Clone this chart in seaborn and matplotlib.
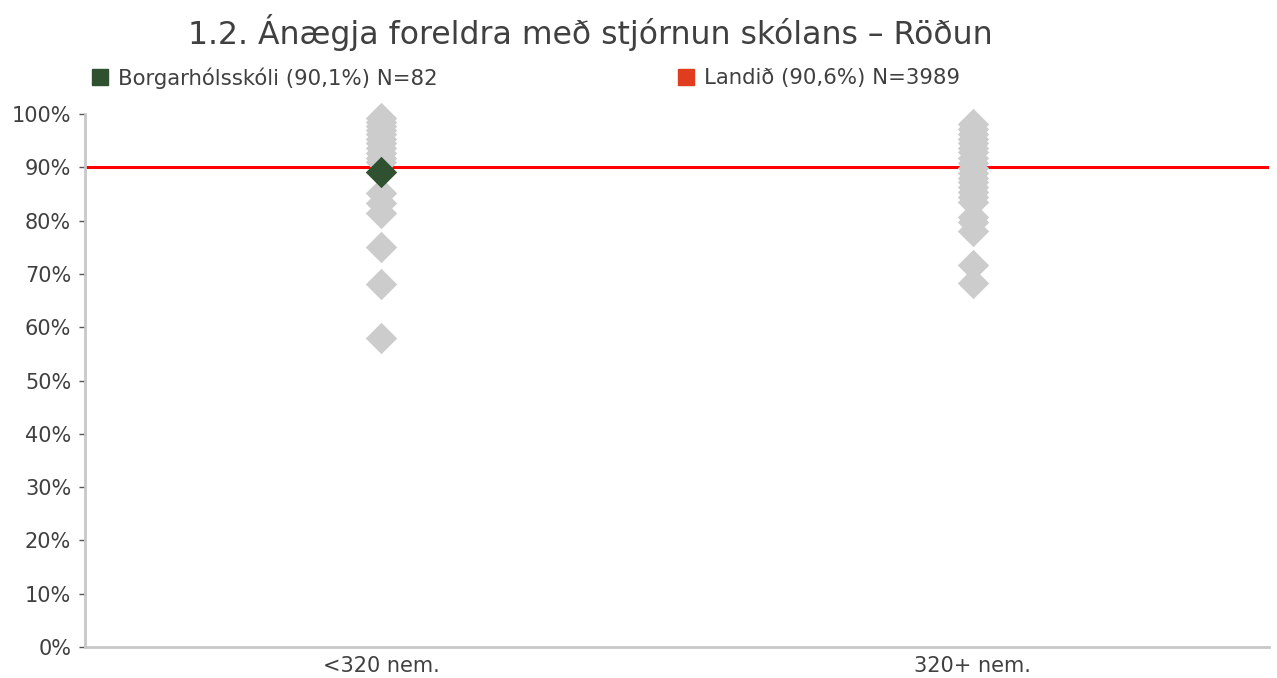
import pandas as pd
import matplotlib.pyplot as plt
import matplotlib.ticker as mticker
from matplotlib.lines import Line2D
import seaborn as sns

# Gögn lesin af myndinni
groups = ["<320 nem.", "320+ nem."]
small_schools = [99.2, 98.6, 97.8, 97.0, 96.2, 95.4, 94.5, 93.6, 92.7, 91.8, 91.0,
                 85.2, 83.3, 81.4, 75.0, 68.1, 58.0]
large_schools = [98.1, 97.2, 96.3, 95.4, 94.6, 93.7, 92.8, 91.8, 90.8, 89.9, 89.0,
                 88.1, 87.2, 86.3, 85.3, 84.4, 83.5, 80.6, 79.7, 78.0, 71.7, 68.4]
school_group = "<320 nem."
school_value = 89.1
line_value = 90.1
legend_labels = ["Borgarhólsskóli (90,1%) N=82", "Landið (90,6%) N=3989"]
title = "1.2. Ánægja foreldra með stjórnun skólans – Röðun"

sns.set_style("white")
plt.rcParams["font.family"] = ["DejaVu Sans"]

df_others = pd.DataFrame({
    "group": [groups[0]] * len(small_schools) + [groups[1]] * len(large_schools),
    "value": [v / 100 for v in small_schools + large_schools],
})
df_school = pd.DataFrame({"group": [school_group], "value": [school_value / 100]})

fig = plt.figure(figsize=(12.77, 6.78), dpi=100)
ax = fig.add_axes([0.0666, 0.0457, 0.927, 0.786])

ax.axhline(line_value / 100, color="#ff0000", lw=2.2, zorder=1)
sns.stripplot(data=df_others, x="group", y="value", order=groups, jitter=False,
              marker="D", size=16, color="#cccccc", linewidth=0, ax=ax, zorder=2)
sns.stripplot(data=df_school, x="group", y="value", order=groups, jitter=False,
              marker="D", size=16, color="#2f5130", linewidth=0, ax=ax, zorder=3)
for c in ax.collections:
    c.set_clip_on(False)

ax.set_xlim(-0.5, 1.5)
ax.set_ylim(0, 1)
ax.yaxis.set_major_locator(mticker.MultipleLocator(0.1))
ax.yaxis.set_major_formatter(mticker.PercentFormatter(1.0, decimals=0))
ax.set_xlabel("")
ax.set_ylabel("")

for side in ["top", "right"]:
    ax.spines[side].set_visible(False)
for side in ["left", "bottom"]:
    ax.spines[side].set_color("#c8c8c8")
    ax.spines[side].set_linewidth(2)

ax.tick_params(axis="y", left=True, length=4, width=1, color="#555555",
               labelsize=15, labelcolor="#404040", pad=6)
ax.tick_params(axis="x", bottom=False, labelsize=15, labelcolor="#404040", pad=3)

fig.text(0.462, 0.952, title, ha="center", va="center", fontsize=22.7, color="#404040")

h1 = Line2D([], [], marker="s", color="#2f5130", linestyle="", markersize=11.5)
h2 = Line2D([], [], marker="s", color="#e03c1e", linestyle="", markersize=11.5)
fig.legend([h1], [legend_labels[0]], loc="center left", bbox_to_anchor=(0.055, 0.885),
           frameon=False, fontsize=15.3, handletextpad=0.35, handlelength=1.0,
           labelcolor="#404040")
fig.legend([h2], [legend_labels[1]], loc="center left", bbox_to_anchor=(0.514, 0.885),
           frameon=False, fontsize=15.3, handletextpad=0.35, handlelength=1.0,
           labelcolor="#404040")

fig.savefig("out.png", dpi=100)
